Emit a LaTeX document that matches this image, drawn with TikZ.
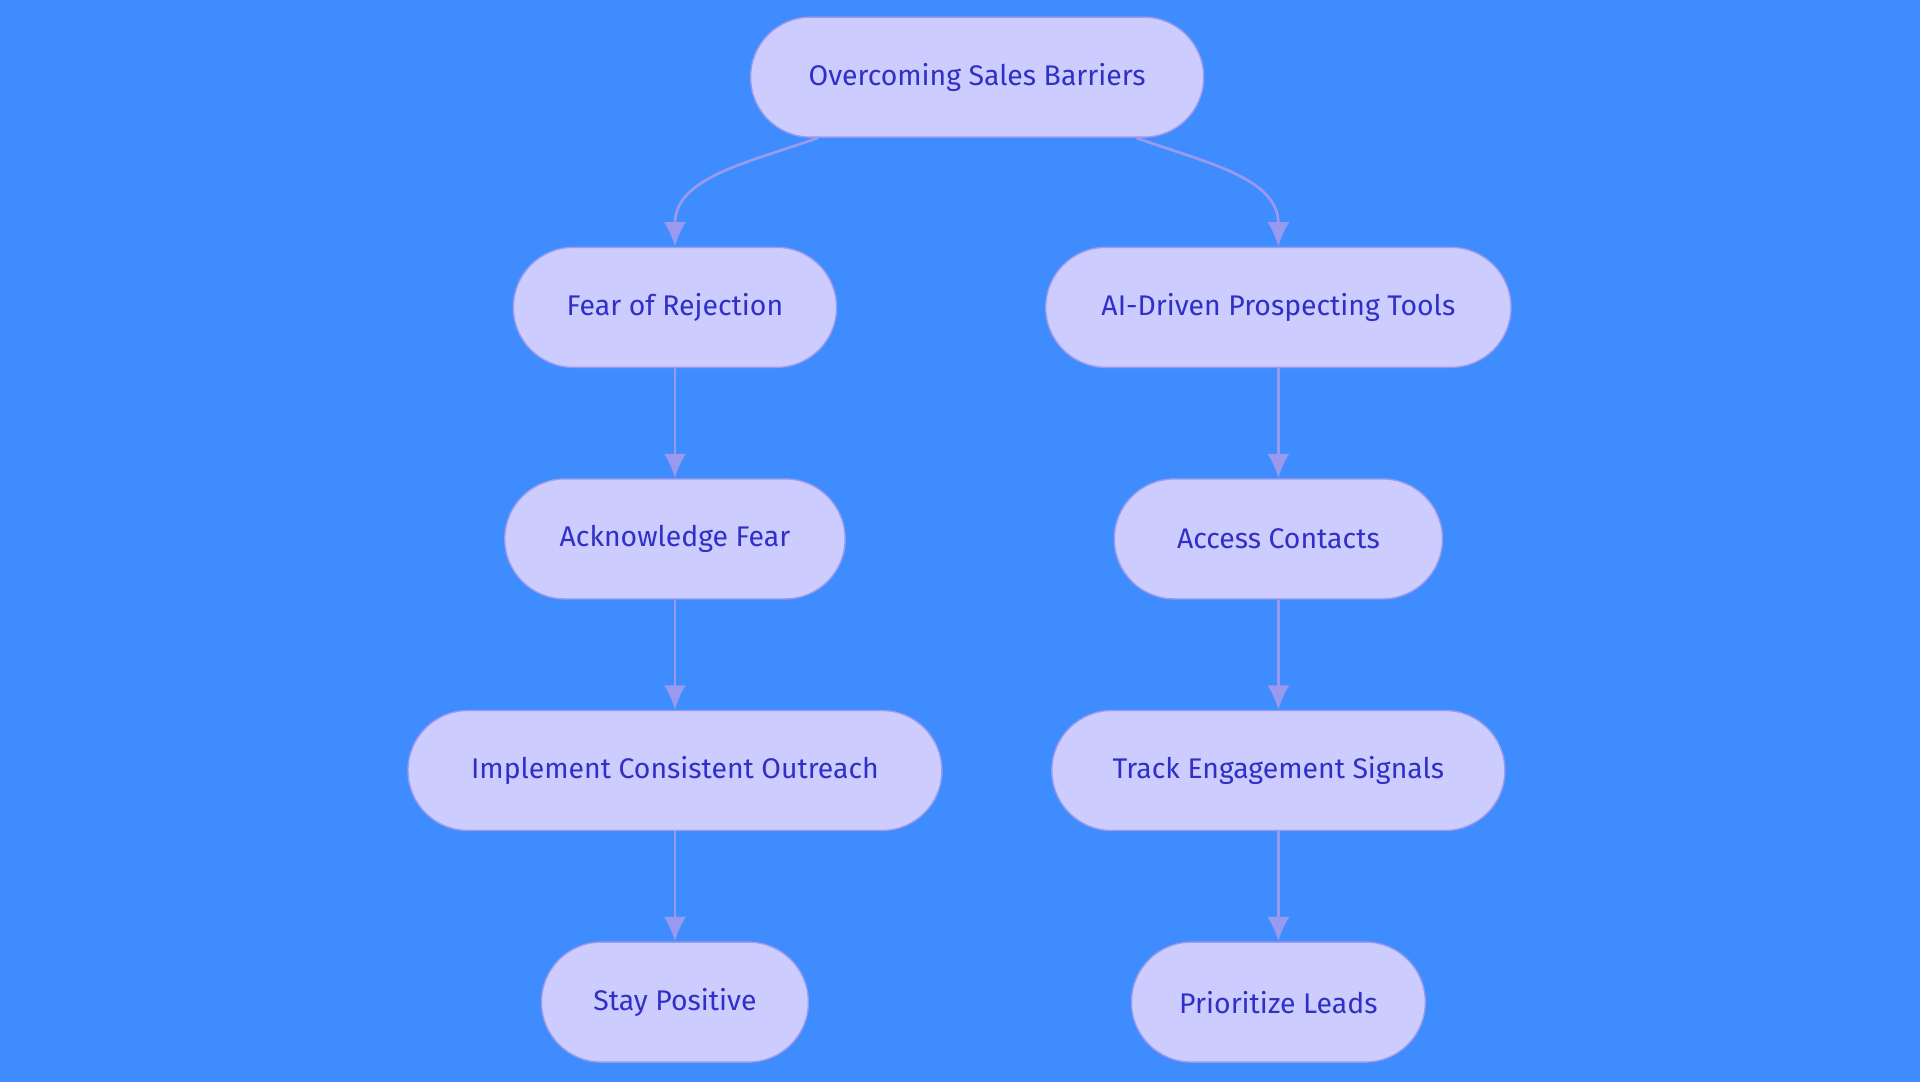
\documentclass[tikz,border=0pt]{standalone}
\usepackage{fontspec}
\setmainfont{Fira Sans}
\usetikzlibrary{positioning}
\definecolor{bgblue}{HTML}{3F8CFF}
\definecolor{boxfill}{HTML}{CCCCFF}
\definecolor{boxline}{HTML}{9999EE}
\definecolor{boxtext}{HTML}{3030C8}
\tikzset{
  pill/.style={draw=boxline, fill=boxfill, line width=0.8pt, rounded corners=1.22cm,
    minimum height=2.45cm, text=boxtext, font=\fontsize{16.5}{20}\selectfont},
  link/.style={draw=boxline, line width=1.6pt, -{Latex[length=0.5cm,width=0.45cm]}}
}
\usetikzlibrary{arrows.meta}
\begin{document}
\begin{tikzpicture}
  \fill[bgblue] (0,0) rectangle (39.2,-22.1);
  \useasboundingbox (0,0) rectangle (39.2,-22.1);
  \node[pill, minimum width=9.25cm] (root) at (19.95,-1.575) {Overcoming Sales Barriers};
  \node[pill, minimum width=6.6cm] (fear) at (13.78,-6.275) {Fear of Rejection};
  \node[pill, minimum width=9.5cm] (tools) at (26.1,-6.275) {AI-Driven Prospecting Tools};
  \node[pill, minimum width=6.95cm, below=2.25cm of fear] (ack) {Acknowledge Fear};
  \node[pill, minimum width=10.9cm, below=2.25cm of ack] (outreach) {Implement Consistent Outreach};
  \node[pill, minimum width=5.45cm, below=2.25cm of outreach] (positive) {Stay Positive};
  \node[pill, minimum width=6.7cm, below=2.25cm of tools] (contacts) {Access Contacts};
  \node[pill, minimum width=9.25cm, below=2.25cm of contacts] (signals) {Track Engagement Signals};
  \node[pill, minimum width=6cm, below=2.25cm of signals] (leads) {Prioritize Leads};
  \draw[link] ([xshift=-3.25cm]root.south) to[out=200,in=90] (fear.north);
  \draw[link] ([xshift=3.25cm]root.south) to[out=-20,in=90] (tools.north);
  \draw[link] (fear) -- (ack);
  \draw[link] (ack) -- (outreach);
  \draw[link] (outreach) -- (positive);
  \draw[link] (tools) -- (contacts);
  \draw[link] (contacts) -- (signals);
  \draw[link] (signals) -- (leads);
\end{tikzpicture}
\end{document}
